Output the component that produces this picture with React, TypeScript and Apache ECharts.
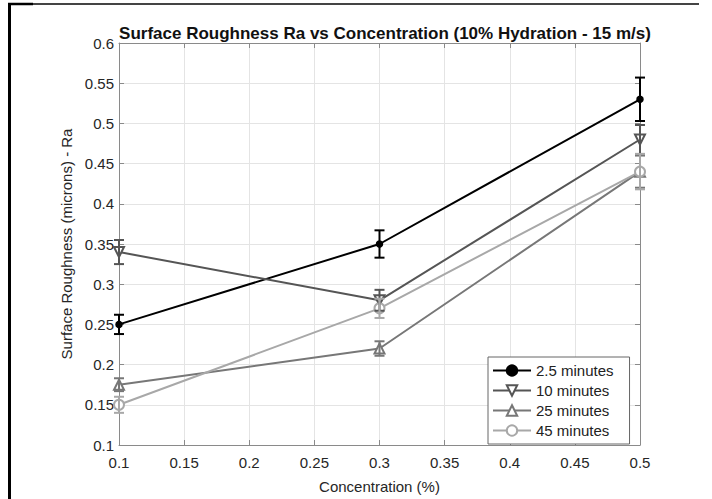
import React, { useEffect, useRef } from "react";
import * as echarts from "echarts";

const concentrations = [0.1, 0.3, 0.5];
const seriesNames = ["2.5 minutes", "10 minutes", "25 minutes", "45 minutes"];
const ra25 = [0.25, 0.35, 0.53];
const ra10 = [0.34, 0.28, 0.48];
const ra25min = [0.175, 0.22, 0.44];
const ra45 = [0.15, 0.27, 0.44];
const err25 = [0.012, 0.017, 0.027];
const err10 = [0.015, 0.013, 0.018];
const err25min = [0.008, 0.009, 0.02];
const err45 = [0.01, 0.012, 0.022];
const yTicks = [0.1, 0.15, 0.2, 0.25, 0.3, 0.35, 0.4, 0.45, 0.5, 0.55, 0.6];

const colors = ["#000000", "#555555", "#777777", "#a8a8a8"];
const symbols = ["circle", "emptyTriangle", "emptyTriangle", "emptyCircle"];
const rotations = [0, 180, 0, 0];
const sizes = [6, 10, 10, 10];

export default function App() {
  const ref = useRef<HTMLDivElement>(null);
  useEffect(() => {
    const chart = echarts.init(ref.current!, null, { renderer: "svg" });
    const values = [ra25, ra10, ra25min, ra45];
    const errs = [err25, err10, err25min, err45];
    const font = "Liberation Sans";
    const fmt = (v: number) => String(parseFloat(v.toFixed(2)));

    const lineSeries = values.map((vals, i) => ({
      name: seriesNames[i],
      type: "line",
      data: concentrations.map((c, j) => [c, vals[j]]),
      symbol: symbols[i],
      symbolSize: sizes[i],
      symbolRotate: rotations[i],
      lineStyle: { color: colors[i], width: 2 },
      itemStyle: { color: colors[i], borderColor: colors[i], borderWidth: 1.5 },
      z: 3,
    }));

    const errSeries = values.map((vals, i) => ({
      name: "err" + i,
      type: "custom",
      data: concentrations.map((c, j) => [c, vals[j] - errs[i][j], vals[j] + errs[i][j]]),
      z: 4,
      renderItem: (params: any, api: any) => {
        const x = api.value(0);
        const p1 = api.coord([x, api.value(2)]);
        const p2 = api.coord([x, api.value(1)]);
        const w = 5;
        const style = { stroke: colors[i], lineWidth: 2 };
        return {
          type: "group",
          children: [
            { type: "line", shape: { x1: p1[0], y1: p1[1], x2: p2[0], y2: p2[1] }, style },
            { type: "line", shape: { x1: p1[0] - w, y1: p1[1], x2: p1[0] + w, y2: p1[1] }, style },
            { type: "line", shape: { x1: p2[0] - w, y1: p2[1], x2: p2[0] + w, y2: p2[1] }, style },
          ],
        };
      },
    }));

    const axisLine = { show: true, lineStyle: { color: "#8a8a8a", width: 1 } };
    const tick = { show: true, inside: true, length: 5, lineStyle: { color: "#8a8a8a" } };

    chart.setOption({
      animation: false,
      backgroundColor: "#ffffff",
      title: {
        text: "Surface Roughness Ra vs Concentration (10% Hydration - 15 m/s)",
        left: 380,
        textAlign: "center",
        top: 20,
        textStyle: { fontFamily: font, fontSize: 17, fontWeight: "bold", color: "#111" },
      },
      grid: { left: 119, right: 72, top: 43, bottom: 51 },
      legend: {
        data: seriesNames,
        orient: "vertical",
        left: 488,
        top: 357,
        itemWidth: 38,
        itemHeight: 13,
        itemGap: 5,
        itemTextGap: 14,
        padding: [6, 16, 6, 4],
        borderColor: "#666",
        borderWidth: 1,
        backgroundColor: "#fff",
        textStyle: { fontFamily: font, fontSize: 15, color: "#222" },
      },
      xAxis: [
        {
          type: "value",
          min: 0.1,
          max: 0.5,
          interval: 0.05,
          name: "Concentration (%)",
          nameLocation: "middle",
          nameGap: 34,
          nameTextStyle: { fontFamily: font, fontSize: 15, color: "#262626" },
          axisLine,
          axisTick: tick,
          axisLabel: { fontFamily: font, fontSize: 15, color: "#262626", margin: 10, formatter: fmt },
          splitLine: { show: true, lineStyle: { color: "#e4e4e4" } },
        },
        {
          type: "value",
          position: "top",
          min: 0.1,
          max: 0.5,
          interval: 0.05,
          axisLine,
          axisTick: tick,
          axisLabel: { show: false },
          splitLine: { show: false },
        },
      ],
      yAxis: [
        {
          type: "value",
          min: 0.1,
          max: 0.6,
          interval: 0.05,
          name: "Surface Roughness (microns) - Ra",
          nameLocation: "middle",
          nameGap: 44,
          nameTextStyle: { fontFamily: font, fontSize: 15, color: "#262626" },
          axisLine,
          axisTick: tick,
          axisLabel: {
            fontFamily: font,
            fontSize: 15,
            color: "#262626",
            margin: 5,
            formatter: (v: number) => {
              const f = fmt(v);
              return yTicks.some((t) => fmt(t) === f) ? f : "";
            },
          },
          splitLine: { show: true, lineStyle: { color: "#e4e4e4" } },
        },
        {
          type: "value",
          position: "right",
          min: 0.1,
          max: 0.6,
          interval: 0.05,
          axisLine,
          axisTick: tick,
          axisLabel: { show: false },
          splitLine: { show: false },
        },
      ],
      graphic: [
        { type: "line", shape: { x1: 9.5, y1: 3, x2: 9.5, y2: 499 }, style: { stroke: "#000", lineWidth: 3 } },
        { type: "line", shape: { x1: 8, y1: 4, x2: 33, y2: 4 }, style: { stroke: "#000", lineWidth: 2.5 } },
        { type: "line", shape: { x1: 33, y1: 4, x2: 699, y2: 4 }, style: { stroke: "#444", lineWidth: 2 } },
      ],
      series: [...lineSeries, ...errSeries],
    });
    return () => chart.dispose();
  }, []);
  return <div ref={ref} style={{ width: 712, height: 499, position: "absolute", left: 0, top: 0 }} />;
}
